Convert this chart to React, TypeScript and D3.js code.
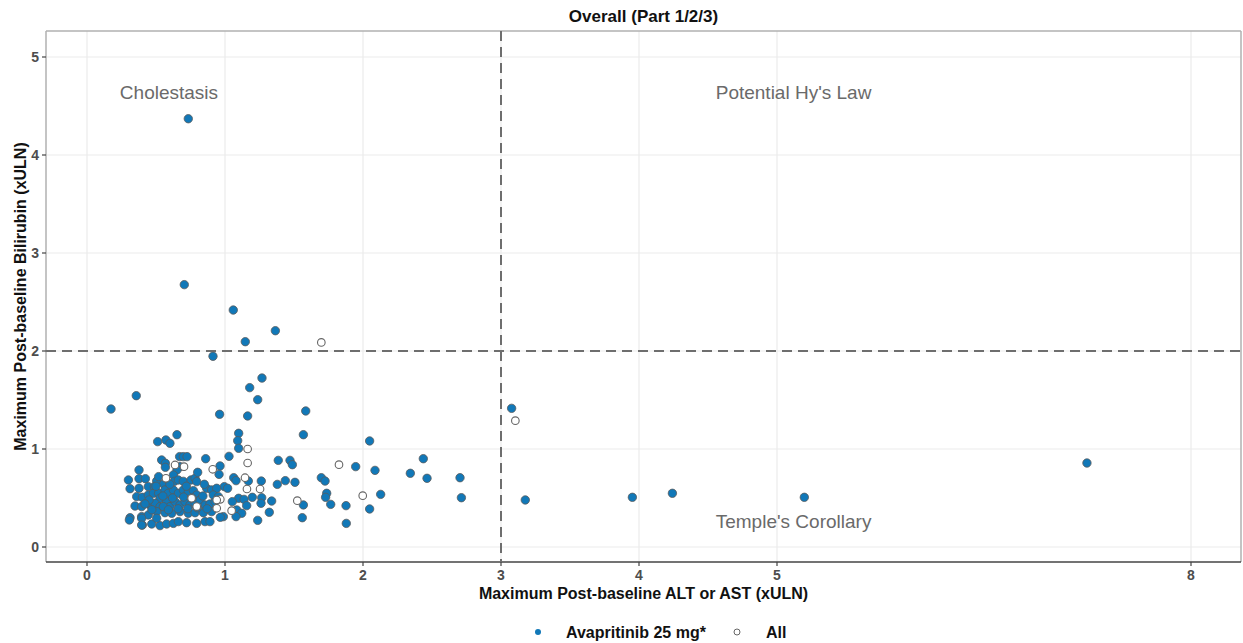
import React from "react";
import * as d3 from "d3";

// ---- Data (values in xULN) ----
const avapritinibPoints: [number, number][] = [
  [0.734, 4.37], [0.705, 2.677], [1.06, 2.418], [1.365, 2.207], [1.147, 2.095], [0.913, 1.946],
  [1.268, 1.724], [1.179, 1.626], [1.237, 1.503], [0.174, 1.408], [0.357, 1.544], [0.961, 1.354],
  [1.164, 1.337], [1.585, 1.388], [1.568, 1.146], [2.048, 1.082], [0.652, 1.146], [0.512, 1.075],
  [0.572, 1.092], [0.601, 1.058], [1.099, 1.16], [1.092, 1.085], [1.099, 1.007], [1.386, 0.884],
  [1.471, 0.884], [1.488, 0.84], [1.947, 0.82], [2.087, 0.782], [2.128, 0.537], [2.048, 0.388],
  [1.877, 0.422], [1.879, 0.241], [1.766, 0.435], [1.737, 0.548], [1.729, 0.507], [1.698, 0.707],
  [1.725, 0.673], [1.568, 0.429], [1.56, 0.299], [1.507, 0.66], [1.437, 0.677], [1.379, 0.639],
  [1.321, 0.354], [1.237, 0.272], [1.338, 0.469], [1.263, 0.673], [1.266, 0.503], [1.261, 0.446],
  [1.198, 0.507], [1.169, 0.673], [1.099, 0.497], [1.138, 0.486], [1.157, 0.422], [1.085, 0.378],
  [1.121, 0.344], [1.08, 0.31], [1.053, 0.463], [1.029, 0.925], [0.964, 0.827], [0.957, 0.741],
  [0.86, 0.901], [1.063, 0.707], [1.08, 0.677], [0.995, 0.616], [1.019, 0.599], [0.988, 0.31],
  [0.966, 0.303],
  [2.437, 0.901], [2.343, 0.752], [2.464, 0.701], [2.703, 0.707], [2.713, 0.503], [3.077, 1.415],
  [3.176, 0.48], [3.952, 0.507], [4.242, 0.548], [5.198, 0.507], [7.246, 0.857],
  [0.377, 0.786], [0.3, 0.684], [0.377, 0.697], [0.423, 0.697], [0.312, 0.595], [0.377, 0.599],
  [0.444, 0.616], [0.505, 0.673], [0.519, 0.718], [0.488, 0.616], [0.541, 0.888], [0.568, 0.854],
  [0.568, 0.813], [0.671, 0.922], [0.698, 0.922], [0.725, 0.922], [0.674, 0.82], [0.652, 0.786],
  [0.626, 0.735], [0.556, 0.643], [0.633, 0.67], [0.662, 0.684], [0.698, 0.67], [0.754, 0.684],
  [0.783, 0.701], [0.802, 0.762], [0.795, 0.667], [0.36, 0.514], [0.401, 0.507], [0.444, 0.531],
  [0.481, 0.548], [0.519, 0.548], [0.529, 0.497], [0.565, 0.582], [0.589, 0.548], [0.626, 0.582],
  [0.662, 0.548], [0.698, 0.582], [0.734, 0.565], [0.771, 0.575], [0.795, 0.531], [0.867, 0.599],
  [0.903, 0.582], [0.94, 0.599], [0.915, 0.531], [0.952, 0.514], [0.348, 0.418], [0.396, 0.412],
  [0.457, 0.429], [0.493, 0.446], [0.529, 0.412], [0.577, 0.463], [0.601, 0.412], [0.638, 0.463],
  [0.674, 0.429], [0.71, 0.463], [0.746, 0.429], [0.783, 0.446], [0.819, 0.48], [0.855, 0.429],
  [0.891, 0.439], [0.928, 0.463], [0.312, 0.299], [0.396, 0.31], [0.444, 0.327], [0.505, 0.361],
  [0.565, 0.35], [0.614, 0.344], [0.674, 0.361], [0.734, 0.344], [0.783, 0.35], [0.843, 0.35],
  [0.903, 0.361], [0.401, 0.224], [0.469, 0.235], [0.529, 0.218], [0.577, 0.235], [0.626, 0.241],
  [0.662, 0.259], [0.722, 0.248], [0.795, 0.241], [0.855, 0.259], [0.891, 0.259], [0.505, 0.293],
  [0.553, 0.412], [0.307, 0.276], [0.396, 0.293], [0.396, 0.224],
  [0.45, 0.48], [0.55, 0.52], [0.62, 0.5], [0.7, 0.51], [0.76, 0.5], [0.84, 0.52], [0.47, 0.38],
  [0.59, 0.38], [0.66, 0.39], [0.73, 0.39], [0.8, 0.4], [0.87, 0.39], [0.42, 0.44], [0.5, 0.62],
  [0.6, 0.64], [0.72, 0.62], [0.85, 0.64],
];

const allPoints: [number, number][] = [
  [1.698, 2.088], [3.104, 1.289], [1.164, 1.0], [1.164, 0.857], [1.826, 0.84], [1.998, 0.524],
  [1.524, 0.473], [1.254, 0.592], [1.145, 0.707], [1.159, 0.592], [1.048, 0.371], [0.911, 0.793],
  [0.966, 0.486], [0.94, 0.395], [0.638, 0.837], [0.703, 0.82], [0.572, 0.701], [0.758, 0.497],
  [0.795, 0.412], [0.94, 0.48],
];

const xTicks = [0, 1, 2, 3, 4, 5, 8];
const yTicks = [0, 1, 2, 3, 4, 5];
const xThreshold = 3;
const yThreshold = 2;
const quadrantLabels: { text: string; x: number; y: number }[] = [
  { text: "Cholestasis", x: 0.594, y: 4.62 },
  { text: "Potential Hy's Law", x: 5.12, y: 4.62 },
  { text: "Temple's Corollary", x: 5.12, y: 0.24 },
];
const legendItems = ["Avapritinib 25 mg*", "All"];

const W = 1243;
const H = 643;
const panel = { left: 46, right: 1241, top: 31, bottom: 562 };
const BLUE = "#1178b8";
const FONT = "'Liberation Sans', Arial, sans-serif";

export default function App() {
  const x = d3.scaleLinear().domain([0, 1]).range([87, 225]);
  const y = d3.scaleLinear().domain([0, 1]).range([547, 449]);

  return (
    <svg width={W} height={H} style={{ position: "absolute", left: 0, top: 0, background: "#fff" }} fontFamily={FONT}>
      <rect x={0} y={0} width={W} height={H} fill="#fff" />
      {/* gridlines */}
      {xTicks.map((t) => (
        <line key={"gx" + t} x1={x(t)} x2={x(t)} y1={panel.top} y2={panel.bottom} stroke="#ebebeb" strokeWidth={1.2} />
      ))}
      {yTicks.map((t) => (
        <line key={"gy" + t} x1={panel.left} x2={panel.right} y1={y(t)} y2={y(t)} stroke="#ebebeb" strokeWidth={1.2} />
      ))}
      {/* panel border */}
      <line x1={panel.left} x2={panel.right} y1={panel.top} y2={panel.top} stroke="#b0b0b0" strokeWidth={1.5} />
      <line x1={panel.left} x2={panel.left} y1={panel.top} y2={panel.bottom} stroke="#b0b0b0" strokeWidth={1.5} />
      <line x1={panel.right} x2={panel.right} y1={panel.top} y2={panel.bottom} stroke="#b0b0b0" strokeWidth={1.5} />
      <line x1={panel.left} x2={panel.right} y1={panel.bottom} y2={panel.bottom} stroke="#444" strokeWidth={1.5} />

      {/* threshold lines */}
      <line x1={x(xThreshold)} x2={x(xThreshold)} y1={panel.top} y2={panel.bottom} stroke="#6e6e6e" strokeWidth={2} strokeDasharray="10,6" />
      <line x1={panel.left} x2={panel.right} y1={y(yThreshold)} y2={y(yThreshold)} stroke="#6e6e6e" strokeWidth={2} strokeDasharray="10,6" />

      {/* quadrant labels */}
      {quadrantLabels.map((q) => (
        <text key={q.text} x={x(q.x)} y={y(q.y)} textAnchor="middle" dominantBaseline="middle" fontSize={19} fill="#6a6a6a">
          {q.text}
        </text>
      ))}

      {/* points */}
      {avapritinibPoints.map((p, i) => (
        <circle key={"a" + i} cx={x(p[0])} cy={y(p[1])} r={4.2} fill={BLUE} stroke="#5a5a5a" strokeWidth={0.8} />
      ))}
      {allPoints.map((p, i) => (
        <circle key={"o" + i} cx={x(p[0])} cy={y(p[1])} r={3.8} fill="#fff" stroke="#666" strokeWidth={1.1} />
      ))}

      {/* axes ticks */}
      {xTicks.map((t) => (
        <g key={"tx" + t}>
          <line x1={x(t)} x2={x(t)} y1={panel.bottom} y2={panel.bottom + 4} stroke="#444" strokeWidth={1.2} />
          <text x={x(t)} y={panel.bottom + 18} textAnchor="middle" fontSize={14} fontWeight="bold" fill="#4d4d4d">{t}</text>
        </g>
      ))}
      {yTicks.map((t) => (
        <g key={"ty" + t}>
          <line x1={panel.left - 4} x2={panel.left} y1={y(t)} y2={y(t)} stroke="#444" strokeWidth={1.2} />
          <text x={panel.left - 7} y={y(t)} textAnchor="end" dominantBaseline="central" fontSize={14} fontWeight="bold" fill="#4d4d4d">{t}</text>
        </g>
      ))}

      {/* titles */}
      <text x={(panel.left + panel.right) / 2} y={22} textAnchor="middle" fontSize={17} fontWeight="bold" fill="#111">Overall (Part 1/2/3)</text>
      <text x={(panel.left + panel.right) / 2} y={599} textAnchor="middle" fontSize={16} fontWeight="bold" fill="#111">Maximum Post-baseline ALT or AST (xULN)</text>
      <text transform={`translate(26,${(panel.top + panel.bottom) / 2}) rotate(-90)`} textAnchor="middle" fontSize={16} fontWeight="bold" fill="#111">Maximum Post-baseline Bilirubin (xULN)</text>

      {/* legend */}
      <circle cx={538} cy={632} r={3} fill={BLUE} />
      <text x={566} y={637.5} fontSize={16} fontWeight="bold" fill="#111">{legendItems[0]}</text>
      <circle cx={737} cy={632} r={3} fill="#fff" stroke="#666" strokeWidth={1} />
      <text x={766} y={637.5} fontSize={16} fontWeight="bold" fill="#111">{legendItems[1]}</text>
    </svg>
  );
}
